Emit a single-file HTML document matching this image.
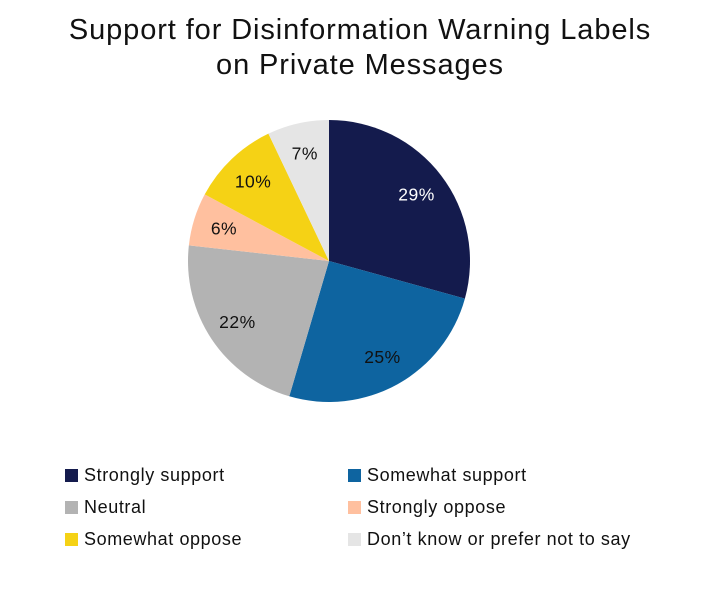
<!DOCTYPE html>
<html><head><meta charset="utf-8"><style>
body{margin:0;background:#fff;font-family:"Liberation Sans",sans-serif;}
#wrap{position:relative;width:707px;height:600px;}
.title{position:absolute;left:0;width:720px;top:13px;text-align:center;font-size:29px;letter-spacing:0.9px;line-height:35px;color:#111;}
.leg{position:absolute;font-size:18px;letter-spacing:0.6px;color:#111;display:flex;align-items:center;}
.leg span.sw{width:13px;height:13px;display:inline-block;margin-right:6px;}
</style></head><body>
<div id="wrap">
<div class="title">Support for Disinformation Warning Labels<br>on Private Messages</div>
<svg id="pie" width="707" height="600" style="position:absolute;left:0;top:0"></svg>
<div id="legend"></div>
</div>
<script>
const categories=["Strongly support","Somewhat support","Neutral","Strongly oppose","Somewhat oppose","Don\u2019t know or prefer not to say"];
const values=[29,25,22,6,10,7];
const colors=["#141b4d","#0e64a0","#b3b3b3","#ffc09f","#f5d215","#e5e5e5"];
const labelColors=["#fff","#111","#111","#111","#111","#111"];
const cx=329,cy=261,r=141;
const svg=document.getElementById('pie');
const NS="http://www.w3.org/2000/svg";
const total=values.reduce((a,b)=>a+b,0);
let acc=0;
function pt(frac,rad){const a=frac*2*Math.PI;return [cx+rad*Math.sin(a),cy-rad*Math.cos(a)];}
values.forEach((v,i)=>{
  const f0=acc/total,f1=(acc+v)/total;acc+=v;
  const [x0,y0]=pt(f0,r),[x1,y1]=pt(f1,r);
  const p=document.createElementNS(NS,'path');
  p.setAttribute('d',`M${cx},${cy}L${x0},${y0}A${r},${r} 0 ${f1-f0>0.5?1:0} 1 ${x1},${y1}Z`);
  p.setAttribute('fill',colors[i]);
  
  
  svg.appendChild(p);
  const [lx,ly]=pt((f0+f1)/2,r*0.78);
  const t=document.createElementNS(NS,'text');
  t.setAttribute('x',lx);t.setAttribute('y',ly+6);
  t.setAttribute('text-anchor','middle');t.setAttribute('font-size','17.5');
  t.setAttribute('letter-spacing','0.5');
  t.setAttribute('font-family','Liberation Sans, sans-serif');
  t.setAttribute('fill',labelColors[i]);
  t.textContent=v+'%';
  
  
  svg.appendChild(t);
});
const lg=document.getElementById('legend');
categories.forEach((c,i)=>{
  const d=document.createElement('div');
  d.className='leg';
  d.style.left=(i%2?348:65)+'px';
  d.style.top=(465+Math.floor(i/2)*32)+'px';
  d.innerHTML=`<span class="sw" style="background:${colors[i]}"></span>${c}`;
  
  
  lg.appendChild(d);
});
</script>
</body></html>
